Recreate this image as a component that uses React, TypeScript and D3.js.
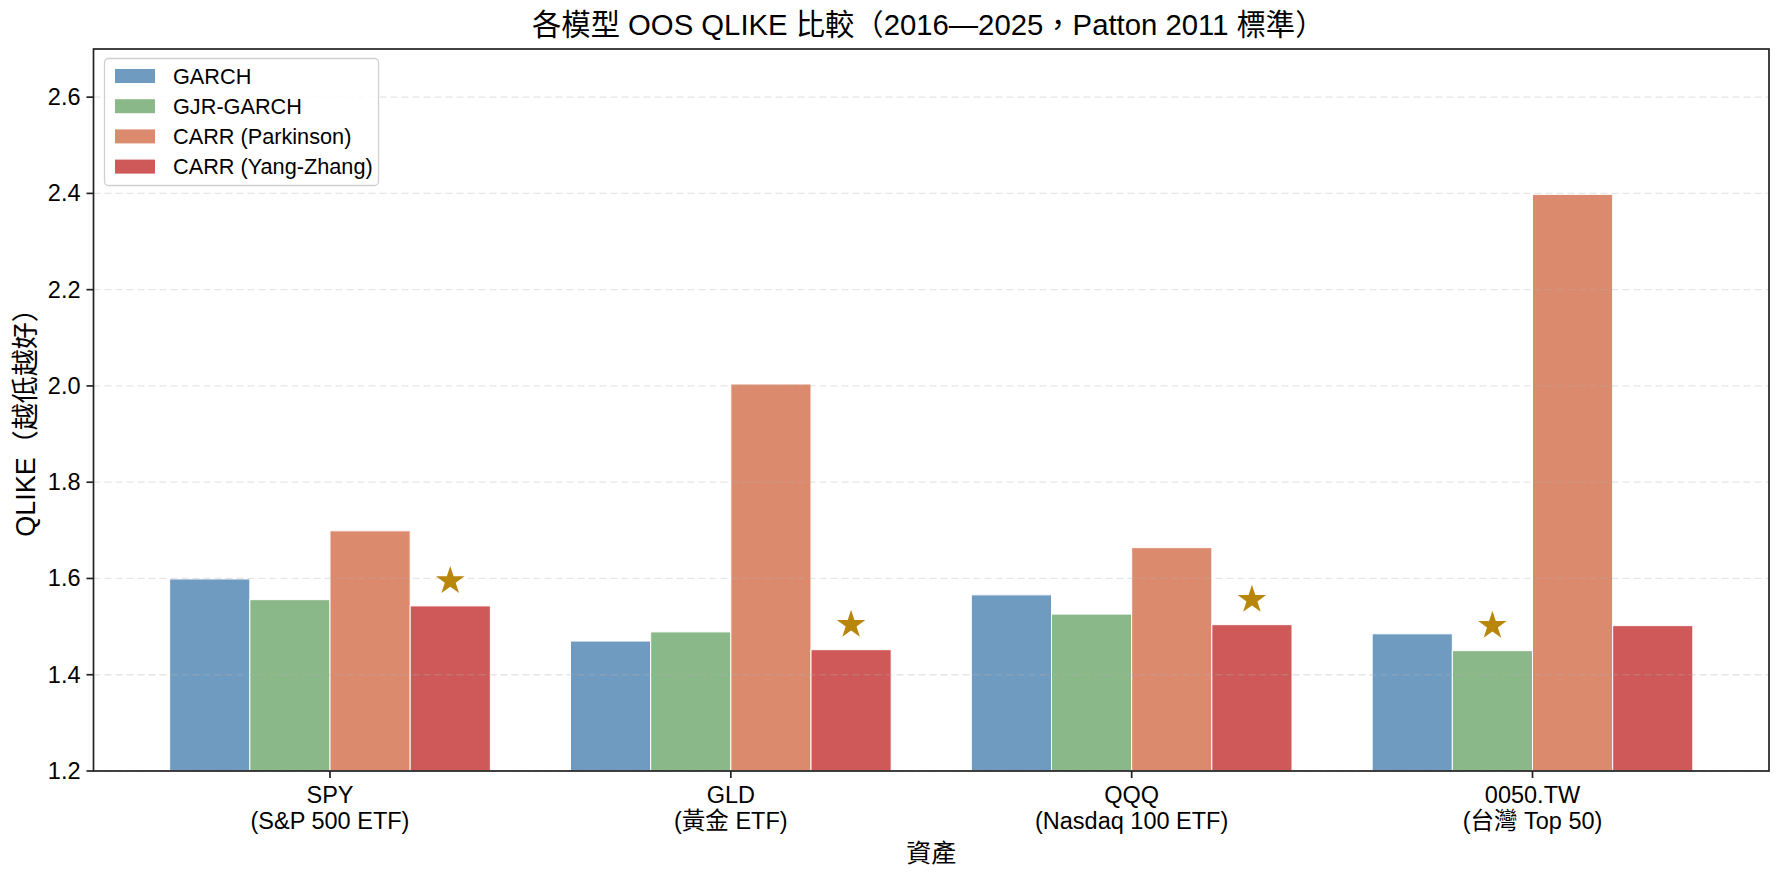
import React from "react";
import * as d3 from "d3";

// Assets (tick line 1 + line 2)
const tickers = ["SPY", "GLD", "QQQ", "0050.TW"];
const assetNames = ["(S&P 500 ETF)", "(黃金 ETF)", "(Nasdaq 100 ETF)", "(台灣 Top 50)"];

// Models and colours
const models = ["GARCH", "GJR-GARCH", "CARR (Parkinson)", "CARR (Yang-Zhang)"];
const modelColors = ["#6F9BC1", "#8AB889", "#DC8A6D", "#CF5858"];

// Out-of-sample QLIKE per model, one value per asset
const garch = [1.599, 1.47, 1.566, 1.485];
const gjrGarch = [1.556, 1.489, 1.526, 1.45];
const carrParkinson = [1.699, 2.004, 1.664, 2.398];
const carrYangZhang = [1.543, 1.452, 1.504, 1.502];

const yTicks = [1.2, 1.4, 1.6, 1.8, 2.0, 2.2, 2.4, 2.6];

const series = [garch, gjrGarch, carrParkinson, carrYangZhang];

const W = 1783;
const H = 882;
const plot = { left: 93.5, right: 1769, top: 49, bottom: 771 };
const FONT = "'Liberation Sans', 'Noto Sans CJK TC', sans-serif";
const AXIS = "#222";

export default function App() {
  const nModels = models.length;
  const barW = 0.2;
  const lo = -0.4;
  const hi = tickers.length - 1 + 0.4;
  const pad = (hi - lo) * 0.05;
  const x = d3.scaleLinear().domain([lo - pad, hi + pad]).range([plot.left, plot.right]);
  const y = d3.scaleLinear().domain([1.2, 2.7]).range([plot.bottom, plot.top]);
  const star = d3.symbol().type(d3.symbolStar).size(252)() as string;

  const offset = (j: number) => (j - (nModels - 1) / 2) * barW;

  // best (lowest) model per asset
  const best = tickers.map((_, i) => {
    let bj = 0;
    series.forEach((s, j) => {
      if (s[i] < series[bj][i]) bj = j;
    });
    return bj;
  });

  return (
    <svg
      width={W}
      height={H}
      style={{ position: "absolute", left: 0, top: 0, display: "block", background: "#fff" }}
      fontFamily={FONT}
    >
      {/* bars */}
      {series.map((s, j) =>
        s.map((v, i) => {
          const x0 = x(i + offset(j) - barW / 2);
          const x1 = x(i + offset(j) + barW / 2);
          return (
            <rect
              key={`b${j}-${i}`}
              x={x0}
              y={y(v)}
              width={x1 - x0}
              height={y(1.2) - y(v)}
              fill={modelColors[j]}
              stroke="#fff"
              strokeWidth={1}
            />
          );
        })
      )}

      {/* grid */}
      {yTicks.map((t) => (
        <line
          key={`g${t}`}
          x1={plot.left}
          x2={plot.right}
          y1={y(t)}
          y2={y(t)}
          stroke="#b0b0b0"
          strokeOpacity={0.32}
          strokeWidth={1.3}
          strokeDasharray="7,4"
        />
      ))}

      {/* best-model stars */}
      {best.map((j, i) => (
        <path
          key={`s${i}`}
          d={star}
          transform={`translate(${x(i + offset(j))},${y(series[j][i]) - 25})`}
          fill="#B8860B"
        />
      ))}

      {/* frame */}
      <rect
        x={plot.left}
        y={plot.top}
        width={plot.right - plot.left}
        height={plot.bottom - plot.top}
        fill="none"
        stroke={AXIS}
        strokeWidth={1.7}
      />

      {/* y axis */}
      {yTicks.map((t) => (
        <g key={`yt${t}`}>
          <line x1={plot.left - 7} x2={plot.left} y1={y(t)} y2={y(t)} stroke={AXIS} strokeWidth={1.7} />
          <text
            x={plot.left - 13}
            y={y(t)}
            textAnchor="end"
            dominantBaseline="central"
            fontSize={23.5}
            fill="#000"
          >
            {d3.format(".1f")(t)}
          </text>
        </g>
      ))}

      {/* x axis */}
      {tickers.map((tk, i) => (
        <g key={`xt${i}`}>
          <line x1={x(i)} x2={x(i)} y1={plot.bottom} y2={plot.bottom + 7} stroke={AXIS} strokeWidth={1.7} />
          <text x={x(i)} y={803} textAnchor="middle" fontSize={23.5} fill="#000">
            {tk}
          </text>
          <text x={x(i)} y={829} textAnchor="middle" fontSize={23.5} fill="#000">
            {assetNames[i]}
          </text>
        </g>
      ))}

      {/* axis titles */}
      <text x={(plot.left + plot.right) / 2} y={862} textAnchor="middle" fontSize={25} fill="#000">
        資產
      </text>
      <text
        transform={`translate(26,${(plot.top + plot.bottom) / 2 + 6}) rotate(-90)`}
        textAnchor="middle"
        dominantBaseline="central"
        fontSize={27}
        fill="#000"
      >
        QLIKE（越低越好）
      </text>

      {/* title */}
      <text x={(plot.left + plot.right) / 2 - 3} y={35} textAnchor="middle" fontSize={29.3} fill="#000">
        各模型 OOS QLIKE 比較（2016—2025，Patton 2011 標準）
      </text>

      {/* legend */}
      <g>
        <rect x={104.5} y={58.5} width={274} height={127} rx={4} fill="#fff" fillOpacity={0.85} stroke="#d0d0d0" strokeWidth={1.3} />
        {models.map((m, j) => {
          const cy = 76 + j * 30.2;
          return (
            <g key={`l${j}`}>
              <rect x={115} y={cy - 7} width={40} height={14} fill={modelColors[j]} />
              <text x={173} y={cy} dominantBaseline="central" fontSize={21.7} fill="#000">
                {m}
              </text>
            </g>
          );
        })}
      </g>
    </svg>
  );
}
